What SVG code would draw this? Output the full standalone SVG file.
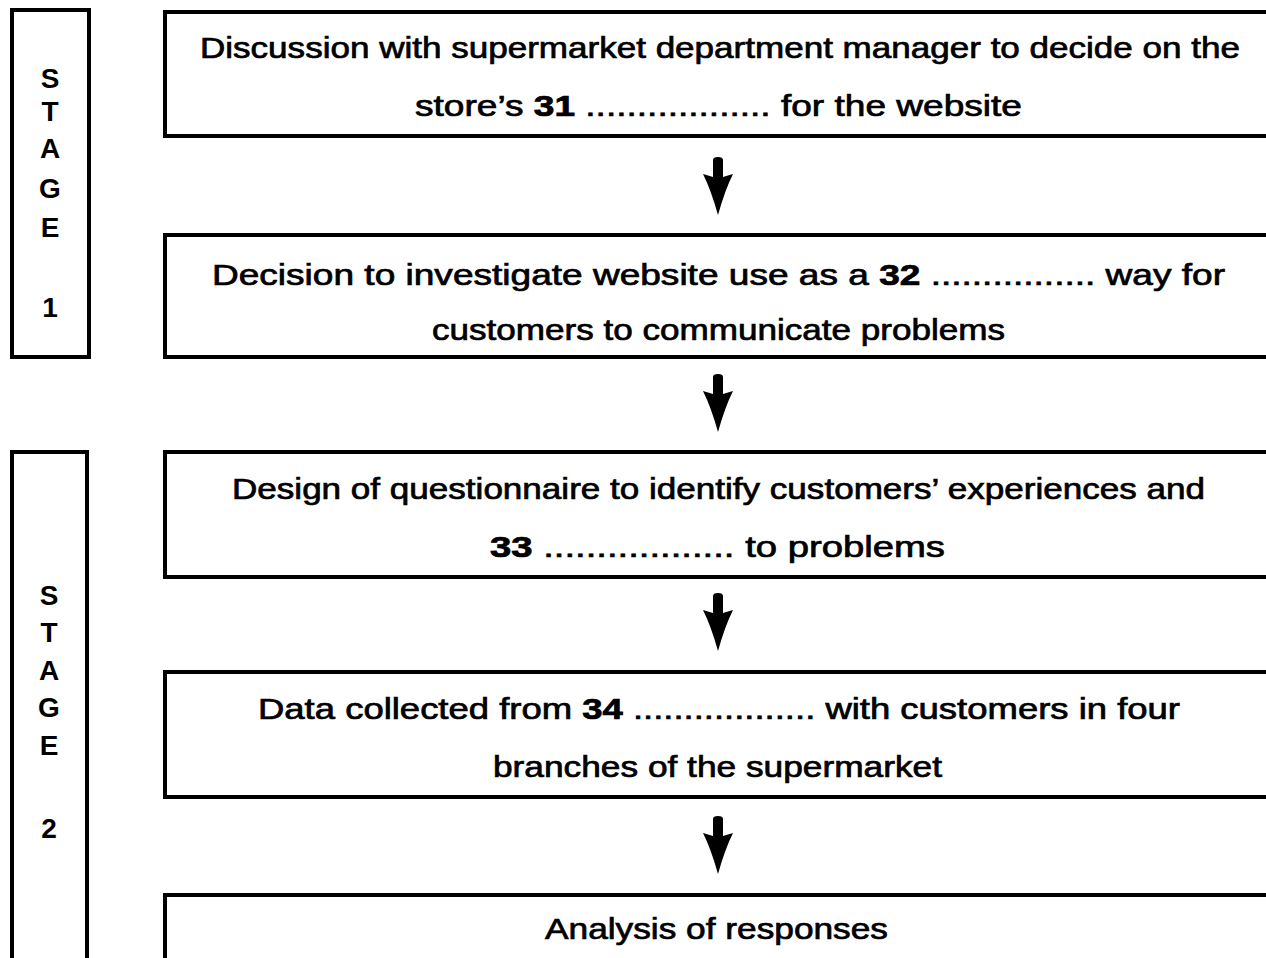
<svg xmlns="http://www.w3.org/2000/svg" width="1266" height="958" viewBox="0 0 1266 958">
<style>
.box{fill:#fff;stroke:#000;stroke-width:4}
.t{font-family:"Liberation Sans",Arial,Helvetica,sans-serif;font-size:29px;fill:#000;stroke:#000;stroke-width:0.7}
.n{font-weight:bold}
.s{font-family:"Liberation Sans",Arial,Helvetica,sans-serif;font-size:28px;font-weight:bold;fill:#000;text-anchor:middle}
.arr{fill:#000}
</style>
<defs>
<path id="arrow" d="M-5,3 Q-5,0 0,0 Q5,0 5,3 L5,20 L15,17 Q7,33 0,58 Q-7,33 -15,17 L-5,20 Z"/>
</defs>
<rect width="1266" height="958" fill="#fff"/>

<g id="stage1">
<rect class="box" x="12" y="10" width="77" height="347"/>
<text class="s" x="50" y="88">S</text>
<text class="s" x="50" y="121">T</text>
<text class="s" x="50" y="158">A</text>
<text class="s" x="50" y="198">G</text>
<text class="s" x="50" y="237">E</text>
<text class="s" x="50" y="317">1</text>
</g>

<g id="stage2">
<rect class="box" x="12" y="452" width="75" height="540"/>
<text class="s" x="49" y="605">S</text>
<text class="s" x="49" y="642">T</text>
<text class="s" x="49" y="680">A</text>
<text class="s" x="49" y="717">G</text>
<text class="s" x="49" y="755">E</text>
<text class="s" x="49" y="838">2</text>
</g>

<g id="box1">
<rect class="box" x="165" y="12" width="1125" height="124"/>
<text class="t" x="200" y="58" textLength="1040" lengthAdjust="spacingAndGlyphs">Discussion with supermarket department manager to decide on the</text>
<text class="t" x="415" y="116" textLength="607" lengthAdjust="spacingAndGlyphs">store’s <tspan class="n">31</tspan> .................. for the website</text>
</g>

<g id="box2">
<rect class="box" x="165" y="235" width="1125" height="122"/>
<text class="t" x="212" y="285" textLength="1013" lengthAdjust="spacingAndGlyphs">Decision to investigate website use as a <tspan class="n">32</tspan> ................ way for</text>
<text class="t" x="432" y="340" textLength="573" lengthAdjust="spacingAndGlyphs">customers to communicate problems</text>
</g>

<g id="box3">
<rect class="box" x="165" y="452" width="1125" height="125"/>
<text class="t" x="232" y="499" textLength="973" lengthAdjust="spacingAndGlyphs">Design of questionnaire to identify customers’ experiences and</text>
<text class="t" x="490" y="557" textLength="455" lengthAdjust="spacingAndGlyphs"><tspan class="n">33</tspan> .................. to problems</text>
</g>

<g id="box4">
<rect class="box" x="165" y="672" width="1125" height="125"/>
<text class="t" x="258" y="719" textLength="922" lengthAdjust="spacingAndGlyphs">Data collected from <tspan class="n">34</tspan> .................. with customers in four</text>
<text class="t" x="493" y="777" textLength="449" lengthAdjust="spacingAndGlyphs">branches of the supermarket</text>
</g>

<g id="box5">
<rect class="box" x="165" y="895" width="1125" height="90"/>
<text class="t" x="545" y="939" textLength="343" lengthAdjust="spacingAndGlyphs">Analysis of responses</text>
</g>

<g id="connectors">
<use href="#arrow" class="arr" x="718" y="157"/>
<use href="#arrow" class="arr" x="718" y="374"/>
<use href="#arrow" class="arr" x="718" y="593"/>
<use href="#arrow" class="arr" x="718" y="816"/>
</g>
</svg>
